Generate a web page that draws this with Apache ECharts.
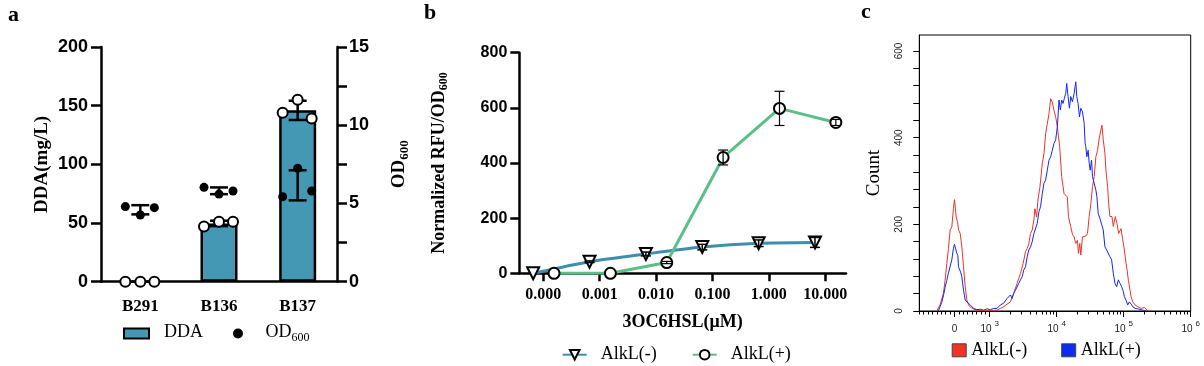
<!DOCTYPE html>
<html><head><meta charset="utf-8">
<script src="https://cdn.jsdelivr.net/npm/echarts@6/dist/echarts.min.js"></script>
<style>html,body{margin:0;padding:0;background:#fff}#chart{width:1204px;height:366px}</style>
</head><body><div id="chart"></div>
<script>
// ---------- Panel a data ----------
const strainsA = ['B291', 'B136', 'B137'];
// replicates (left, middle, right) per strain
const ddaReplicates = [[0, 0, 0], [47, 51, 51], [144, 155, 139]];          // DDA (mg/L)
const odReplicates = [[4.8, 4.26, 4.73], [6.03, 5.6, 5.8], [5.43, 7.25, 5.8]]; // OD600
const ddaTicksA = [0, 50, 100, 150, 200];
const odLabelTicksA = [0, 5, 10, 15];

// ---------- Panel b data ----------
const concB = [0.0001, 0.001, 0.01, 0.1, 1, 10];            // 3OC6HSL (uM)
const tickLabelsB = ['0.000', '0.001', '0.010', '0.100', '1.000', '10.000'];
const alkMinus = [0, 42, 70, 95, 109, 112];
const alkMinusSd = [0, 3, 7, 10, 12, 18];
const alkPlus = [0, 0, 39, 420, 598, 547];
const alkPlusSd = [0, 0, 4, 27, 62, 11];

// ---------- Panel c data (x: display position in decades of the biexponential axis) ----------
const tickLabelsC = [['0', ''], ['10', '3'], ['10', '4'], ['10', '5'], ['10', '6']];
const tickPosC = [2.475, 3, 4, 5, 6];
const countLabelsC = [0, 200, 400, 600];
const histMinus = [[2.21,0],[2.26,14],[2.31,41],[2.335,71],[2.36,109],[2.385,144],[2.41,187],[2.435,194],[2.46,237],[2.475,257],[2.5,217],[2.52,206],[2.535,187],[2.56,179],[2.585,148],[2.61,102],[2.635,56],[2.66,25],[2.685,14],[2.735,6],[2.81,2],[2.91,0],[3.01,1],[3.11,2],[3.16,6],[3.21,10],[3.26,16],[3.31,21],[3.36,41],[3.41,64],[3.46,87],[3.5,110],[3.535,137],[3.56,144],[3.585,156],[3.61,179],[3.635,187],[3.66,210],[3.675,236],[3.7,217],[3.72,256],[3.75,286],[3.785,340],[3.81,363],[3.835,409],[3.86,432],[3.885,455],[3.91,490],[3.935,482],[3.96,463],[3.985,448],[4.01,425],[4.045,379],[4.075,310],[4.11,271],[4.16,263],[4.175,218],[4.21,195],[4.235,177],[4.26,171],[4.285,156],[4.31,163],[4.325,133],[4.345,156],[4.36,129],[4.385,171],[4.41,175],[4.435,173],[4.46,179],[4.485,218],[4.51,248],[4.535,287],[4.56,310],[4.585,356],[4.61,371],[4.635,399],[4.65,395],[4.675,429],[4.695,395],[4.72,364],[4.735,325],[4.76,287],[4.775,248],[4.795,218],[4.825,218],[4.845,195],[4.875,218],[4.9,202],[4.925,179],[4.96,190],[4.985,165],[5.01,141],[5.035,110],[5.05,95],[5.07,71],[5.095,48],[5.11,33],[5.135,21],[5.17,14],[5.21,10],[5.26,6],[5.31,8],[5.35,2],[5.385,0]];
const histPlus = [[2.235,0],[2.26,10],[2.285,20],[2.31,35],[2.335,55],[2.36,70],[2.385,88],[2.41,92],[2.435,118],[2.46,145],[2.475,154],[2.495,150],[2.51,133],[2.525,128],[2.535,102],[2.55,105],[2.57,88],[2.585,79],[2.61,48],[2.635,25],[2.66,22],[2.71,14],[2.76,6],[2.81,3],[2.86,4],[2.91,2],[2.96,5],[3.01,3],[3.06,6],[3.11,6],[3.16,14],[3.21,18],[3.26,29],[3.31,37],[3.335,29],[3.36,41],[3.385,48],[3.41,48],[3.435,64],[3.46,72],[3.485,79],[3.51,95],[3.535,102],[3.56,125],[3.585,141],[3.61,148],[3.635,160],[3.66,179],[3.685,183],[3.71,202],[3.735,229],[3.76,241],[3.785,271],[3.81,295],[3.835,302],[3.86,325],[3.885,348],[3.91,356],[3.935,371],[3.96,387],[3.985,395],[4.01,425],[4.035,487],[4.055,464],[4.075,487],[4.095,479],[4.115,491],[4.135,502],[4.15,525],[4.17,495],[4.19,468],[4.21,495],[4.235,483],[4.26,502],[4.285,529],[4.3,495],[4.32,479],[4.34,448],[4.36,468],[4.385,460],[4.41,433],[4.425,387],[4.435,379],[4.45,356],[4.47,371],[4.485,341],[4.5,325],[4.52,348],[4.535,310],[4.56,295],[4.585,279],[4.6,264],[4.62,225],[4.645,214],[4.67,210],[4.695,187],[4.72,148],[4.745,141],[4.77,137],[4.795,125],[4.82,118],[4.845,87],[4.87,64],[4.895,56],[4.92,72],[4.945,64],[4.97,56],[4.995,45],[5.01,33],[5.035,25],[5.06,14],[5.085,21],[5.11,16],[5.135,10],[5.17,6],[5.21,5],[5.26,3],[5.31,1],[5.335,0]];

// ---------- styling ----------
const SERIF = "'Liberation Serif','Times New Roman',serif";
const SANS = "'Liberation Sans',Arial,sans-serif";
const BAR = '#4598b4', BLUE_B = '#3d8fae', GREEN_B = '#5cbf88', RED_C = '#e8352b', BLUE_C = '#1428f0';
const REP_OFFSET = [-15, 0, 14];      // px jitter of replicates
const DODGE = [-0.18, 0.19];          // decade nudge of the two series in panel b

const mean = a => a.reduce((s, v) => s + v, 0) / a.length;
const sd = a => { const m = mean(a); return Math.sqrt(a.reduce((s, v) => s + (v - m) ** 2, 0) / (a.length - 1)); };

function errRender(capHalf, lw) {
  return function (params, api) {
    const x = api.value(0), lo = api.value(1), hi = api.value(2);
    if (hi === lo) return { type: 'group', children: [] };
    const a = api.coord([x, hi]), b = api.coord([x, lo]);
    const st = { stroke: '#000', lineWidth: lw };
    return { type: 'group', children: [
      { type: 'line', shape: { x1: a[0], y1: a[1], x2: b[0], y2: b[1] }, style: st },
      { type: 'line', shape: { x1: a[0] - capHalf, y1: a[1], x2: a[0] + capHalf, y2: a[1] }, style: st },
      { type: 'line', shape: { x1: b[0] - capHalf, y1: b[1], x2: b[0] + capHalf, y2: b[1] }, style: st }
    ] };
  };
}

const ddaPts = [], odPts = [], ddaErr = [], odErr = [];
strainsA.forEach((s, i) => {
  ddaReplicates[i].forEach((v, j) => ddaPts.push({ value: [i, v], symbolOffset: [REP_OFFSET[j], 0] }));
  odReplicates[i].forEach((v, j) => odPts.push({ value: [i, v], symbolOffset: [REP_OFFSET[j], 0] }));
  const md = mean(ddaReplicates[i]), sdd = sd(ddaReplicates[i]);
  ddaErr.push([i, md - sdd, md + sdd]);
  const mo = mean(odReplicates[i]), sdo = sd(odReplicates[i]);
  odErr.push([i, mo - sdo, mo + sdo]);
});
const ddaMeans = ddaReplicates.map(mean);

const expB = concB.map(c => Math.round(Math.log10(c)));
const minusPts = concB.map((c, i) => [Math.log10(c) + DODGE[0], alkMinus[i]]);
const plusPts = concB.map((c, i) => [Math.log10(c) + DODGE[1], alkPlus[i]]);
const minusErr = minusPts.map((p, i) => [p[0], p[1] - alkMinusSd[i], p[1] + alkMinusSd[i]]);
const plusErr = plusPts.map((p, i) => [p[0], p[1] - alkPlusSd[i], p[1] + alkPlusSd[i]]);

// panel c ticks
const minorC = [];
for (let k = -8; k <= 7; k++) if (k !== 0) minorC.push(tickPosC[0] + k * (tickPosC[1] - tickPosC[0]) / 8);
for (let n = 3; n <= 5; n++) for (let k = 2; k <= 9; k++) minorC.push(n + Math.log10(k));
const countTicksC = [];
for (let v = 0; v <= 600; v += 40) countTicksC.push(v);

const thick = { onZero: false, lineStyle: { color: '#000', width: 2.5 } };
const subRich = (fs, sfs, fw) => ({
  m: { fontFamily: SERIF, fontSize: fs, fontWeight: fw, color: '#000', lineHeight: fs + 2, verticalAlign: 'top' },
  s: { fontFamily: SERIF, fontSize: sfs, fontWeight: fw, color: '#000', lineHeight: sfs, verticalAlign: 'bottom' }
});

const option = {
  animation: false,
  backgroundColor: '#fff',
  graphic: [
    { type: 'text', left: 8, top: 4, style: { text: 'a', font: 'bold 22px ' + SERIF, fill: '#000' } },
    { type: 'text', left: 424, top: 2, style: { text: 'b', font: 'bold 22px ' + SERIF, fill: '#000' } },
    { type: 'text', left: 861, top: 1, style: { text: 'c', font: 'bold 22px ' + SERIF, fill: '#000' } }
  ],
  grid: [
    { left: 101, top: 47, width: 236, height: 234.7 },
    { left: 519.3, top: 52.7, width: 326.7, height: 220.6 },
    { left: 919.3, top: 35, width: 271.4, height: 276, show: true, borderColor: '#000', borderWidth: 1 }
  ],
  legend: [
    { left: 118, top: 318.5, itemWidth: 25, itemHeight: 10, itemGap: 30, selectedMode: false,
      data: [{ name: 'DDA', icon: 'rect', itemStyle: { color: BAR, borderColor: '#000', borderWidth: 2 } },
             { name: 'OD600', icon: 'circle', itemStyle: { color: '#000', opacity: 1 } }],
      formatter: n => n === 'OD600' ? '{m|OD}{s|600}' : '{m|DDA}',
      textStyle: { padding: [0, 0, 0, 10], rich: subRich(18, 12, 'normal') } },
    { left: 556.7, top: 340.7, itemWidth: 24, itemHeight: 12, itemGap: 35, selectedMode: false,
      data: ['AlkL(-)', 'AlkL(+)'],
      textStyle: { fontFamily: SERIF, fontSize: 18, color: '#000', padding: [0, 0, 0, 9] } },
    { left: 946.7, top: 336.3, itemWidth: 14, itemHeight: 13, itemGap: 34, selectedMode: false,
      data: [{ name: 'cMinus', icon: 'rect', itemStyle: { color: '#ee3526', borderColor: '#444', borderWidth: 1 } },
             { name: 'cPlus', icon: 'rect', itemStyle: { color: '#0a2cf5', borderColor: '#444', borderWidth: 1 } }],
      formatter: n => n === 'cMinus' ? 'AlkL(-)' : 'AlkL(+)',
      textStyle: { fontFamily: SERIF, fontSize: 18, color: '#000' } }
  ],
  xAxis: [
    { type: 'category', gridIndex: 0, data: strainsA, axisLine: thick,
      axisTick: { alignWithLabel: true, length: 8, lineStyle: { color: '#000', width: 2.5 } },
      axisLabel: { fontFamily: SERIF, fontWeight: 'bold', fontSize: 17, color: '#000', margin: 16 } },
    { type: 'value', gridIndex: 1, min: -4.426, max: 1.37, axisLine: thick, splitLine: { show: false },
      axisTick: { customValues: expB, length: 8, lineStyle: { color: '#000', width: 2.5 } },
      axisLabel: { customValues: expB, formatter: v => tickLabelsB[expB.indexOf(Math.round(v))],
        fontFamily: SERIF, fontWeight: 'bold', fontSize: 16, color: '#000', margin: 14 },
      name: '3OC6HSL(μM)', nameLocation: 'middle', nameGap: 40,
      nameTextStyle: { fontFamily: SERIF, fontWeight: 'bold', fontSize: 18, color: '#000' } },
    { type: 'value', gridIndex: 2, position: 'bottom', min: 1.95, max: 6, splitLine: { show: false },
      axisLine: { onZero: false, lineStyle: { color: '#000', width: 1 } },
      axisTick: { customValues: tickPosC, length: 6, lineStyle: { color: '#000', width: 1 } },
      axisLabel: { customValues: tickPosC, margin: 9, color: '#222',
        formatter: v => { const i = tickPosC.findIndex(t => Math.abs(t - v) < 1e-6); const l = tickLabelsC[i]; return l[1] ? '{n|' + l[0] + '}{e|' + l[1] + '}' : '{n|' + l[0] + '}'; },
        rich: { n: { fontFamily: SANS, fontSize: 10, color: '#222', lineHeight: 14, verticalAlign: 'bottom' },
                e: { fontFamily: SANS, fontSize: 8, color: '#222', lineHeight: 8, verticalAlign: 'top', padding: [0, 0, 0, 3] } } } },
    { type: 'value', gridIndex: 2, position: 'bottom', min: 1.95, max: 6, splitLine: { show: false },
      axisLine: { show: false, onZero: false }, axisLabel: { show: false },
      axisTick: { customValues: minorC, length: 3.5, lineStyle: { color: '#000', width: 1 } } }
  ],
  yAxis: [
    { type: 'value', gridIndex: 0, min: 0, max: 200, interval: 50, axisLine: { show: true, ...thick },
      axisTick: { show: true, length: 10, lineStyle: { color: '#000', width: 2.5 } }, splitLine: { show: false },
      axisLabel: { customValues: ddaTicksA, fontFamily: SANS, fontWeight: 'bold', fontSize: 18, color: '#000', margin: 13 },
      name: 'DDA(mg/L)', nameLocation: 'middle', nameGap: 49, nameRotate: 90,
      nameTextStyle: { fontFamily: SERIF, fontWeight: 'bold', fontSize: 19, color: '#000' } },
    { type: 'value', gridIndex: 0, position: 'right', min: 0, max: 15, interval: 2.5, axisLine: { show: true, ...thick },
      axisTick: { show: true, length: 10, lineStyle: { color: '#000', width: 2.5 } }, splitLine: { show: false },
      axisLabel: { customValues: odLabelTicksA, fontFamily: SANS, fontWeight: 'bold', fontSize: 18, color: '#000', margin: 12 },
      name: '{m|OD}{s|600}', nameLocation: 'middle', nameGap: 53, nameRotate: 90,
      nameTextStyle: { rich: subRich(19, 13, 'bold') } },
    { type: 'value', gridIndex: 1, min: 0, max: 800, interval: 200, axisLine: { show: true, ...thick },
      axisTick: { show: true, length: 9, lineStyle: { color: '#000', width: 2.5 } }, splitLine: { show: false },
      axisLabel: { fontFamily: SANS, fontWeight: 'bold', fontSize: 16, color: '#000', margin: 12 },
      name: '{m|Normalized RFU/OD}{s|600}', nameLocation: 'middle', nameGap: 69, nameRotate: 90,
      nameTextStyle: { rich: subRich(18, 12, 'bold') } },
    { type: 'value', gridIndex: 2, min: 0, max: 637, splitLine: { show: false },
      axisLine: { show: true, onZero: false, lineStyle: { color: '#000', width: 1 } },
      axisTick: { show: true, customValues: countTicksC, length: 6, lineStyle: { color: '#000', width: 1 } },
      axisLabel: { customValues: countLabelsC, rotate: 90, fontFamily: SANS, fontSize: 10, color: '#222', margin: 15 },
      name: 'Count', nameLocation: 'middle', nameGap: 36, nameRotate: 90,
      nameTextStyle: { fontFamily: SERIF, fontSize: 19, color: '#000' } }
  ],
  series: [
    // ----- panel a -----
    { name: 'DDA', type: 'bar', xAxisIndex: 0, yAxisIndex: 0, data: ddaMeans, barWidth: 37,
      itemStyle: { color: BAR, borderColor: '#000', borderWidth: 2.5 } },
    { type: 'custom', xAxisIndex: 0, yAxisIndex: 0, data: ddaErr, encode: { x: 0, y: [1, 2] }, renderItem: errRender(9, 2.5), z: 3 },
    { type: 'custom', xAxisIndex: 0, yAxisIndex: 1, data: odErr, encode: { x: 0, y: [1, 2] }, renderItem: errRender(9, 2.5), z: 3 },
    { name: 'DDApts', type: 'scatter', xAxisIndex: 0, yAxisIndex: 0, data: ddaPts, symbol: 'circle', symbolSize: 10,
      itemStyle: { color: '#fff', borderColor: '#000', borderWidth: 2, opacity: 1 }, z: 4 },
    { name: 'OD600', type: 'scatter', xAxisIndex: 0, yAxisIndex: 1, data: odPts, symbol: 'circle', symbolSize: 9,
      itemStyle: { color: '#000', opacity: 1 }, z: 4 },
    // ----- panel b -----
    { name: 'AlkL(-)', type: 'line', xAxisIndex: 1, yAxisIndex: 2, data: minusPts, smooth: 0.25,
      symbol: 'triangle', symbolRotate: 180, symbolSize: 12,
      itemStyle: { color: '#fff', borderColor: '#000', borderWidth: 2 }, lineStyle: { color: BLUE_B, width: 3 } },
    { name: 'AlkL(+)', type: 'line', xAxisIndex: 1, yAxisIndex: 2, data: plusPts,
      symbol: 'circle', symbolSize: 11,
      itemStyle: { color: '#fff', borderColor: '#000', borderWidth: 2 }, lineStyle: { color: GREEN_B, width: 3 } },
    { type: 'custom', xAxisIndex: 1, yAxisIndex: 2, data: minusErr, encode: { x: 0, y: [1, 2] }, renderItem: errRender(5, 1.5), z: 5 },
    { type: 'custom', xAxisIndex: 1, yAxisIndex: 2, data: plusErr, encode: { x: 0, y: [1, 2] }, renderItem: errRender(5, 1.2), z: 5 },
    // ----- panel c -----
    { name: 'cMinus', type: 'line', xAxisIndex: 2, yAxisIndex: 3, data: histMinus, showSymbol: false, symbol: 'none',
      itemStyle: { color: RED_C }, lineStyle: { color: RED_C, width: 1 } },
    { name: 'cPlus', type: 'line', xAxisIndex: 2, yAxisIndex: 3, data: histPlus, showSymbol: false, symbol: 'none',
      itemStyle: { color: BLUE_C }, lineStyle: { color: BLUE_C, width: 1 } }
  ]
};

const chart = echarts.init(document.getElementById('chart'));
chart.setOption(option);
</script>
</body></html>
